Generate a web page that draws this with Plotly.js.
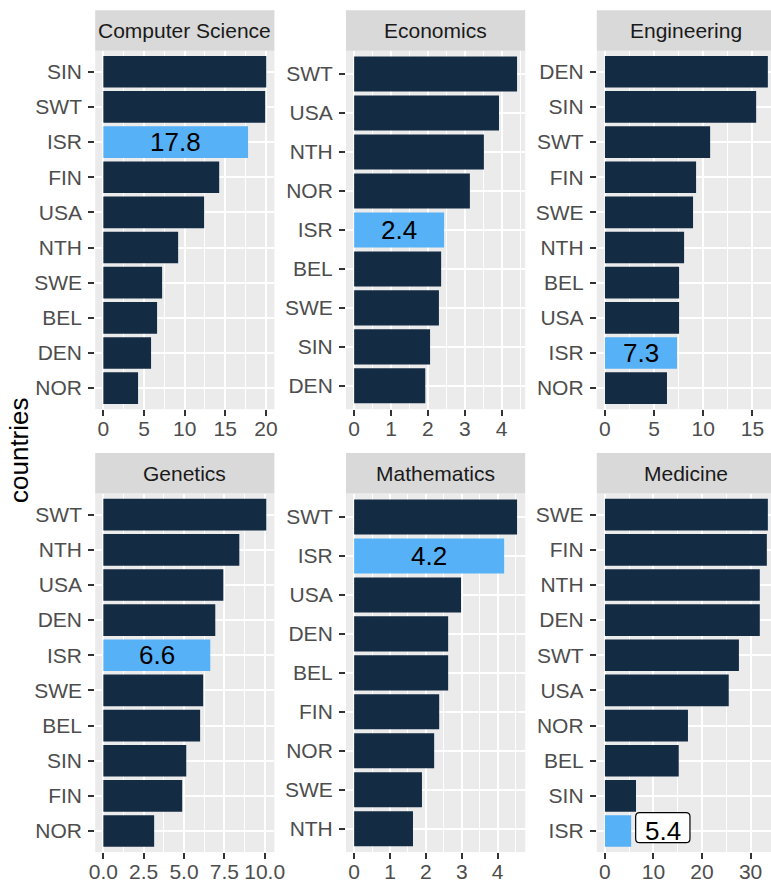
<!DOCTYPE html>
<html><head><meta charset="utf-8">
<script src="https://cdn.plot.ly/plotly-3.0.1.min.js"></script>
<style>html,body{margin:0;padding:0;overflow:hidden;background:#fff}#chart{width:776px;height:881px}</style>
</head><body><div id="chart"></div>
<script>
// ---- data (read top-to-bottom from each panel) ----
const subjects = ["Computer Science","Economics","Engineering","Genetics","Mathematics","Medicine"];

const csCountries = ["SIN","SWT","ISR","FIN","USA","NTH","SWE","BEL","DEN","NOR"];
const csValues    = [20.04,19.91,17.8,14.25,12.4,9.2,7.23,6.61,5.87,4.27];

const econCountries = ["SWT","USA","NTH","NOR","ISR","BEL","SWE","SIN","DEN"];
const econValues    = [4.42,3.93,3.52,3.14,2.44,2.36,2.30,2.06,1.93];

const engCountries = ["DEN","SIN","SWT","FIN","SWE","NTH","BEL","USA","ISR","NOR"];
const engValues    = [16.57,15.38,10.7,9.27,8.96,8.05,7.54,7.54,7.33,6.31];

const genCountries = ["SWT","NTH","USA","DEN","ISR","SWE","BEL","SIN","FIN","NOR"];
const genValues    = [10.1,8.43,7.44,6.94,6.63,6.19,6.0,5.14,4.89,3.15];

const mathCountries = ["SWT","ISR","USA","DEN","BEL","FIN","NOR","SWE","NTH"];
const mathValues    = [4.54,4.18,2.98,2.62,2.62,2.37,2.23,1.89,1.64];

const medCountries = ["SWE","FIN","NTH","DEN","SWT","USA","NOR","BEL","SIN","ISR"];
const medValues    = [33.56,33.35,31.9,31.9,27.6,25.5,17.1,15.2,6.4,5.4];

const highlightCountry = "ISR";
const yTitle = "countries";

// ---- styling / layout ----
const FONT = '"Liberation Sans", Arial, Helvetica, sans-serif';
const DARK = "#132B43", LIGHT = "#56B1F7";
const W = 776, H = 881;
const colLeft = [95.2, 346.0, 596.8], panelW = 179.2;
const rowTop = [50.7, 493.6], panelH = 358.5, stripH = 40.5;

const panels = [
  {countries: csCountries,   values: csValues,   dtick: 5,   fmt: "d"},
  {countries: econCountries, values: econValues, dtick: 1,   fmt: "d"},
  {countries: engCountries,  values: engValues,  dtick: 5,   fmt: "d"},
  {countries: genCountries,  values: genValues,  dtick: 2.5, fmt: ".1f"},
  {countries: mathCountries, values: mathValues, dtick: 1,   fmt: "d"},
  {countries: medCountries,  values: medValues,  dtick: 10,  fmt: "d"}
];

const traces = [];
const layout = {
  width: W, height: H,
  margin: {l: 0, r: 0, t: 0, b: 0},
  paper_bgcolor: "#FFFFFF",
  plot_bgcolor: "#EBEBEB",
  showlegend: false,
  font: {family: FONT, color: "#4D4D4D"},
  shapes: [], annotations: []
};

panels.forEach((p, i) => {
  const col = i % 3, row = Math.floor(i / 3);
  const sfx = i === 0 ? "" : String(i + 1);
  const xref = "x" + sfx, yref = "y" + sfx;
  const maxV = Math.max(...p.values);
  const order = p.countries.slice().reverse(); // bottom -> top
  const n = order.length;

  traces.push({
    type: "bar", orientation: "h",
    x: p.values, y: p.countries,
    xaxis: xref, yaxis: yref,
    width: 0.9,
    marker: {color: p.countries.map(c => c === highlightCountry ? LIGHT : DARK), line: {width: 0}},
    hoverinfo: "x+y"
  });

  const x0 = colLeft[col], x1 = colLeft[col] + panelW;
  const top = rowTop[row], bottom = rowTop[row] + panelH;

  layout["xaxis" + sfx] = {
    domain: [x0 / W, x1 / W], anchor: yref,
    range: [-0.05 * maxV, 1.05 * maxV],
    tick0: 0, dtick: p.dtick, tickformat: p.fmt,
    ticks: "outside", ticklen: 6, tickwidth: 2, tickcolor: "#333333",
    ticklabelstandoff: -5,
    tickfont: {size: 21, color: "#4D4D4D", family: FONT},
    showgrid: true, gridcolor: "#FFFFFF", gridwidth: 2,
    minor: {dtick: p.dtick / 2, tick0: 0, showgrid: true, gridcolor: "#FFFFFF", gridwidth: 1, ticks: ""},
    zeroline: false, showline: false, fixedrange: true
  };
  layout["yaxis" + sfx] = {
    domain: [1 - bottom / H, 1 - top / H], anchor: xref,
    type: "category", categoryorder: "array", categoryarray: order,
    range: [-0.6, n - 0.4],
    ticks: "outside", ticklen: 6, tickwidth: 2, tickcolor: "#333333",
    ticklabelstandoff: 2,
    tickfont: {size: 21, color: "#4D4D4D", family: FONT},
    showgrid: true, gridcolor: "#FFFFFF", gridwidth: 2,
    zeroline: false, showline: false, fixedrange: true
  };

  // strip
  layout.shapes.push({
    type: "rect", xref: "paper", yref: "paper",
    x0: x0 / W, x1: x1 / W, y0: 1 - top / H, y1: 1 - (top - stripH) / H,
    fillcolor: "#D9D9D9", line: {width: 0}
  });
  layout.annotations.push({
    xref: "paper", yref: "paper",
    x: (x0 + x1) / 2 / W, y: 1 - (top - stripH / 2) / H,
    xanchor: "center", yanchor: "middle", showarrow: false,
    text: subjects[i], font: {size: 21, color: "#1A1A1A", family: FONT}
  });

  // highlight label
  const k = p.countries.indexOf(highlightCountry);
  const v = p.values[k];
  const yIdx = order.indexOf(highlightCountry);
  const label = v.toFixed(1);
  if (v >= 0.25 * maxV) {
    layout.annotations.push({
      xref: xref, yref: yref, x: v / 2, y: yIdx,
      xanchor: "center", yanchor: "middle", showarrow: false,
      text: label, font: {size: 26, color: "#000000", family: FONT}
    });
  } else {
    // boxed label to the right of the bar (rounded rectangle)
    layout.shapes.push({
      type: "path", xref: xref, yref: yref,
      xsizemode: "pixel", ysizemode: "pixel", xanchor: v, yanchor: yIdx,
      path: "M 8.5,-11.7 L 54.8,-11.7 Q 58.8,-11.7 58.8,-7.7 L 58.8,14.3 Q 58.8,18.3 54.8,18.3 L 8.5,18.3 Q 4.5,18.3 4.5,14.3 L 4.5,-7.7 Q 4.5,-11.7 8.5,-11.7 Z",
      fillcolor: "#FFFFFF", line: {color: "#000000", width: 1.2}, layer: "above"
    });
    layout.annotations.push({
      xref: xref, yref: yref, x: v, y: yIdx, xshift: 31.7,
      xanchor: "center", yanchor: "middle", showarrow: false,
      text: label, font: {size: 26, color: "#000000", family: FONT}
    });
  }
});

// y axis title
layout.annotations.push({
  xref: "paper", yref: "paper", x: 19 / W, y: 1 - 450 / H,
  xanchor: "center", yanchor: "middle", showarrow: false, textangle: -90,
  text: yTitle, font: {size: 26, color: "#000000", family: FONT}
});

Plotly.newPlot("chart", traces, layout, {staticPlot: true, displayModeBar: false});
</script>
</body></html>
